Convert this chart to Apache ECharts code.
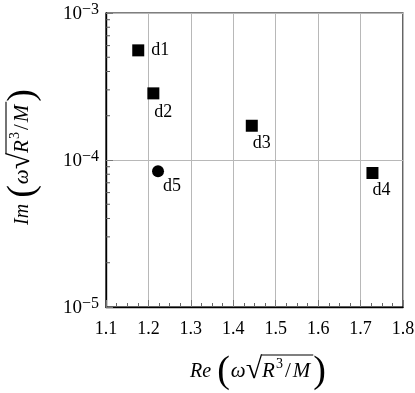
<!DOCTYPE html>
<html><head><meta charset="utf-8">
<script src="https://cdn.jsdelivr.net/npm/echarts@6/dist/echarts.min.js"></script>
<style>html,body{margin:0;padding:0;background:#fff}#c{width:415px;height:393px}</style>
</head><body><div id="c"></div>
<script>
// ---- data ----
const pointNames = ['d1', 'd2', 'd3', 'd4', 'd5'];
const reValues   = [1.176, 1.2116, 1.4436, 1.728, 1.2226];
const imValues   = [5.57e-4, 2.84e-4, 1.71e-4, 8.16e-5, 8.38e-5];
const xTicks     = [1.1, 1.2, 1.3, 1.4, 1.5, 1.6, 1.7, 1.8];
const yDecades   = [1e-5, 1e-4, 1e-3];
const xTitlePrefix = 'Re';
const yTitlePrefix = 'Im';

// ---- styles (not data) ----
const FONT = 'Liberation Serif';
const FS = 18;
const circleNames = ['d5'];
const labelPos = { d1: [19, 6], d2: [7, 25], d3: [7, 23.5], d4: [6, 23], d5: [11, 21] };

const chart = echarts.init(document.getElementById('c'), null, { renderer: 'canvas' });

function mkData(filterFn) {
  return pointNames.map((n, i) => ({ n, i })).filter(o => filterFn(o.n)).map(o => ({
    name: o.n,
    value: [reValues[o.i], imValues[o.i]],
    label: { position: labelPos[o.n] }
  }));
}

// log-spaced minor ticks for the y axis
const yMinor = [];
for (let d = 0; d < yDecades.length - 1; d++) {
  for (let k = 2; k <= 9; k++) yMinor.push(yDecades[d] * k);
}

// ---- axis titles: prefix ( ω √ R^3 / M ) typeset as text pieces ----
const mctx = document.createElement('canvas').getContext('2d');
function fontStr(size, italic) { return (italic ? 'italic ' : '') + size + 'px "' + FONT + '"'; }
function measure(t, size, italic) { mctx.font = fontStr(size, italic); return mctx.measureText(t).width; }
function buildTitle(prefix) {
  const pieces = [
    { t: prefix, s: 20, it: true },
    { gap: 6 },
    { t: '(', s: 38, mid: -6 },
    { gap: 1 },
    { t: 'ω', s: 21, it: true },
    { t: '√', s: 30, dy: 2 },
    { t: 'R', s: 21, it: true, over: true },
    { gap: 1 },
    { t: '3', s: 14, dy: -9, over: true },
    { gap: 2 },
    { t: '/', s: 21, over: true },
    { gap: 2 },
    { t: 'M', s: 21, it: true, over: true },
    { gap: 3, over: true },
    { t: ')', s: 38, mid: -6 }
  ];
  let x = 0, ox0 = null, ox1 = null;
  const children = [];
  pieces.forEach(p => {
    if (p.gap) { x += p.gap; if (p.over) ox1 = x; return; }
    const wdt = measure(p.t, p.s, p.it);
    const y = (p.mid !== undefined) ? p.mid : (p.dy || 0) - 0.32 * p.s;
    children.push({ type: 'text', x: x, y: y, style: { text: p.t, font: fontStr(p.s, p.it), fill: '#000', align: 'left', verticalAlign: 'middle' } });
    if (p.over) { if (ox0 === null) ox0 = x; ox1 = x + wdt; }
    x += wdt;
  });
  children.push({ type: 'line', shape: { x1: ox0 - 0.5, y1: -23, x2: ox1, y2: -23 }, style: { stroke: '#000', lineWidth: 1.1 } });
  return { children, width: x };
}
const xt = buildTitle(xTitlePrefix);
const yt = buildTitle(yTitlePrefix);

const labelRich = {
  b: { fontFamily: FONT, fontSize: 19, color: '#000', lineHeight: 22, verticalAlign: 'bottom' },
  s: { fontFamily: FONT, fontSize: 16, color: '#000', lineHeight: 22, verticalAlign: 'top', padding: [0, 0, 12, 0] }
};

const option = {
  backgroundColor: '#fff',
  animation: false,
  grid: { left: 106, right: 12, top: 13, bottom: 86, outerBoundsMode: 'none', containLabel: false,
    show: true, borderColor: '#000', borderWidth: 1.2, backgroundColor: 'transparent' },
  graphic: [
    { type: 'group', x: 258 - xt.width / 2, y: 378, children: xt.children },
    { type: 'group', x: 29, y: 157 + yt.width / 2, rotation: Math.PI / 2, children: yt.children }
  ],
  xAxis: {
    type: 'value', min: xTicks[0], max: xTicks[xTicks.length - 1], interval: 0.1,
    axisLine: { show: true, lineStyle: { color: '#000', width: 1.4 } },
    axisTick: { show: true, inside: true, length: 7, lineStyle: { color: '#777', width: 1 } },
    minorTick: { show: true, splitNumber: 4, length: 4, lineStyle: { color: '#666', width: 1 } },
    splitLine: { show: true, lineStyle: { color: '#b8b8b8', width: 1 } },
    axisLabel: { fontFamily: FONT, fontSize: FS, color: '#000', margin: 13,
      formatter: v => v.toFixed(1) }
  },
  yAxis: {
    type: 'log', logBase: 10, min: yDecades[0], max: yDecades[yDecades.length - 1],
    axisLine: { show: true, lineStyle: { color: '#000', width: 1.4 } },
    axisTick: { show: true, inside: true, length: 7, lineStyle: { color: '#777', width: 1 } },
    splitLine: { show: true, lineStyle: { color: '#b8b8b8', width: 1 } },
    axisLabel: { margin: 7, rich: labelRich,
      formatter: v => '{b|10}{s|−' + Math.abs(Math.round(Math.log10(v))) + '}' }
  },
  series: [
    {
      type: 'custom', silent: true, clip: false, z: 5,
      data: yMinor.map(v => [xTicks[0], v]),
      renderItem: (params, api) => {
        const p = api.coord([api.value(0), api.value(1)]);
        return { type: 'line', shape: { x1: p[0], y1: p[1], x2: p[0] + 4, y2: p[1] },
          style: { stroke: '#555', lineWidth: 1 } };
      }
    },
    {
      type: 'scatter', symbol: 'rect', symbolSize: 12, z: 10,
      itemStyle: { color: '#000', opacity: 1 },
      label: { show: true, formatter: p => p.name, fontFamily: FONT, fontSize: FS, color: '#000', align: 'left', verticalAlign: 'middle' },
      data: mkData(n => circleNames.indexOf(n) < 0)
    },
    {
      type: 'scatter', symbol: 'circle', symbolSize: 12, z: 10,
      itemStyle: { color: '#000', opacity: 1 },
      label: { show: true, formatter: p => p.name, fontFamily: FONT, fontSize: FS, color: '#000', align: 'left', verticalAlign: 'middle' },
      data: mkData(n => circleNames.indexOf(n) >= 0)
    }
  ]
};
chart.setOption(option);
</script></body></html>
